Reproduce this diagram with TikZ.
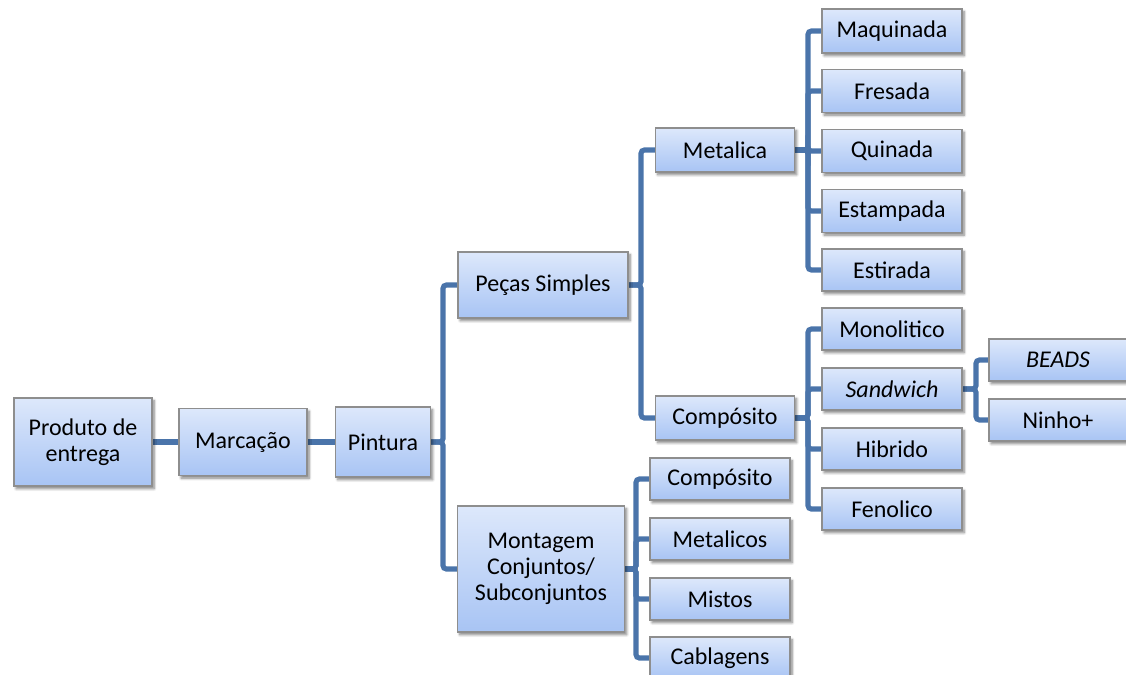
\documentclass[tikz,border=0pt]{standalone}
\usepackage{fontspec}
\setmainfont{Carlito}
\usetikzlibrary{backgrounds,shadows.blur}
\definecolor{boxtop}{HTML}{DDE8FB}
\definecolor{boxbot}{HTML}{A8C4F4}
\definecolor{boxline}{HTML}{8E8E8E}
\definecolor{linkblue}{HTML}{4A74AA}
\tikzset{
  box/.style 2 args={draw=boxline, line width=0.8pt, top color=boxtop, bottom color=boxbot,
    minimum width=#1*0.75pt, minimum height=#2*0.75pt, inner sep=1pt, align=center,
    font=\fontsize{18}{19.5}\selectfont,
    blur shadow={shadow xshift=1.6pt, shadow yshift=-2pt, shadow blur steps=6, shadow opacity=50}},
  conn/.style={draw=linkblue, line width=3.8pt, rounded corners=2.5pt},
}
\begin{document}
\begin{tikzpicture}[x=0.75pt, y=-0.75pt]
\useasboundingbox (0,0) rectangle (1126,674);
\clip (0,0) rectangle (1126,674);

% main chain
\node[box={138}{88}] (prod) at (83,442) {Produto de\\entrega};
\node[box={128}{67}] (marc) at (243,442) {Marcação};
\node[box={95}{70}] (pint) at (383,442) {Pintura};

% second level
\node[box={170}{66}] (pecas) at (543,285) {Peças Simples};
\node[box={167}{126}] (mont) at (541,569) {Montagem\\Conjuntos/\\Subconjuntos};

% parts
\node[box={139}{44}] (metal) at (725,150) {Metalica};
\node[box={139}{44}] (compA) at (725,418) {Compósito};

\node[box={140}{44}] (maq) at (892,31) {Maquinada};
\node[box={140}{43}] (fres) at (892,91) {Fresada};
\node[box={140}{43}] (quin) at (892,151) {Quinada};
\node[box={140}{43}] (estam) at (892,211) {Estampada};
\node[box={140}{42}] (estir) at (892,270) {Estirada};

\node[box={140}{42}] (mono) at (892,329) {Monolitico};
\node[box={140}{42}] (sand) at (892,389) {\itshape Sandwich};
\node[box={140}{42}] (hib) at (892,449) {Hibrido};
\node[box={140}{42}] (fen) at (892,509) {Fenolico};

\node[box={138}{42}] (beads) at (1058,360) {\itshape BEADS};
\node[box={138}{42}] (ninho) at (1058,420) {Ninho+};

% assemblies
\node[box={140}{42}] (compB) at (720,479) {Compósito};
\node[box={140}{42}] (metcs) at (720,539) {Metalicos};
\node[box={140}{42}] (mist) at (720,599) {Mistos};
\node[box={140}{42}] (cabl) at (720,658) {Cablagens};

% junction points
\coordinate (jPint) at (443,442);
\coordinate (jPecas) at (641,285);
\coordinate (jMetal) at (808,150);
\coordinate (jComp) at (808,418);
\coordinate (jSand) at (976,389);
\coordinate (jMont) at (636,569);

\begin{pgfonlayer}{background}
\draw[conn] (prod.east) -- (marc.west);
\draw[conn] (marc.east) -- (pint.west);
\foreach \c in {pecas,mont} \draw[conn] (pint.east) -- (jPint) |- (\c.west);
\foreach \c in {metal,compA} \draw[conn] (pecas.east) -- (jPecas) |- (\c.west);
\foreach \c in {maq,fres,quin,estam,estir} \draw[conn] (metal.east) -- (jMetal) |- (\c.west);
\foreach \c in {mono,sand,hib,fen} \draw[conn] (compA.east) -- (jComp) |- (\c.west);
\foreach \c in {beads,ninho} \draw[conn] (sand.east) -- (jSand) |- (\c.west);
\foreach \c in {compB,metcs,mist,cabl} \draw[conn] (mont.east) -- (jMont) |- (\c.west);
\end{pgfonlayer}
\end{tikzpicture}
\end{document}
